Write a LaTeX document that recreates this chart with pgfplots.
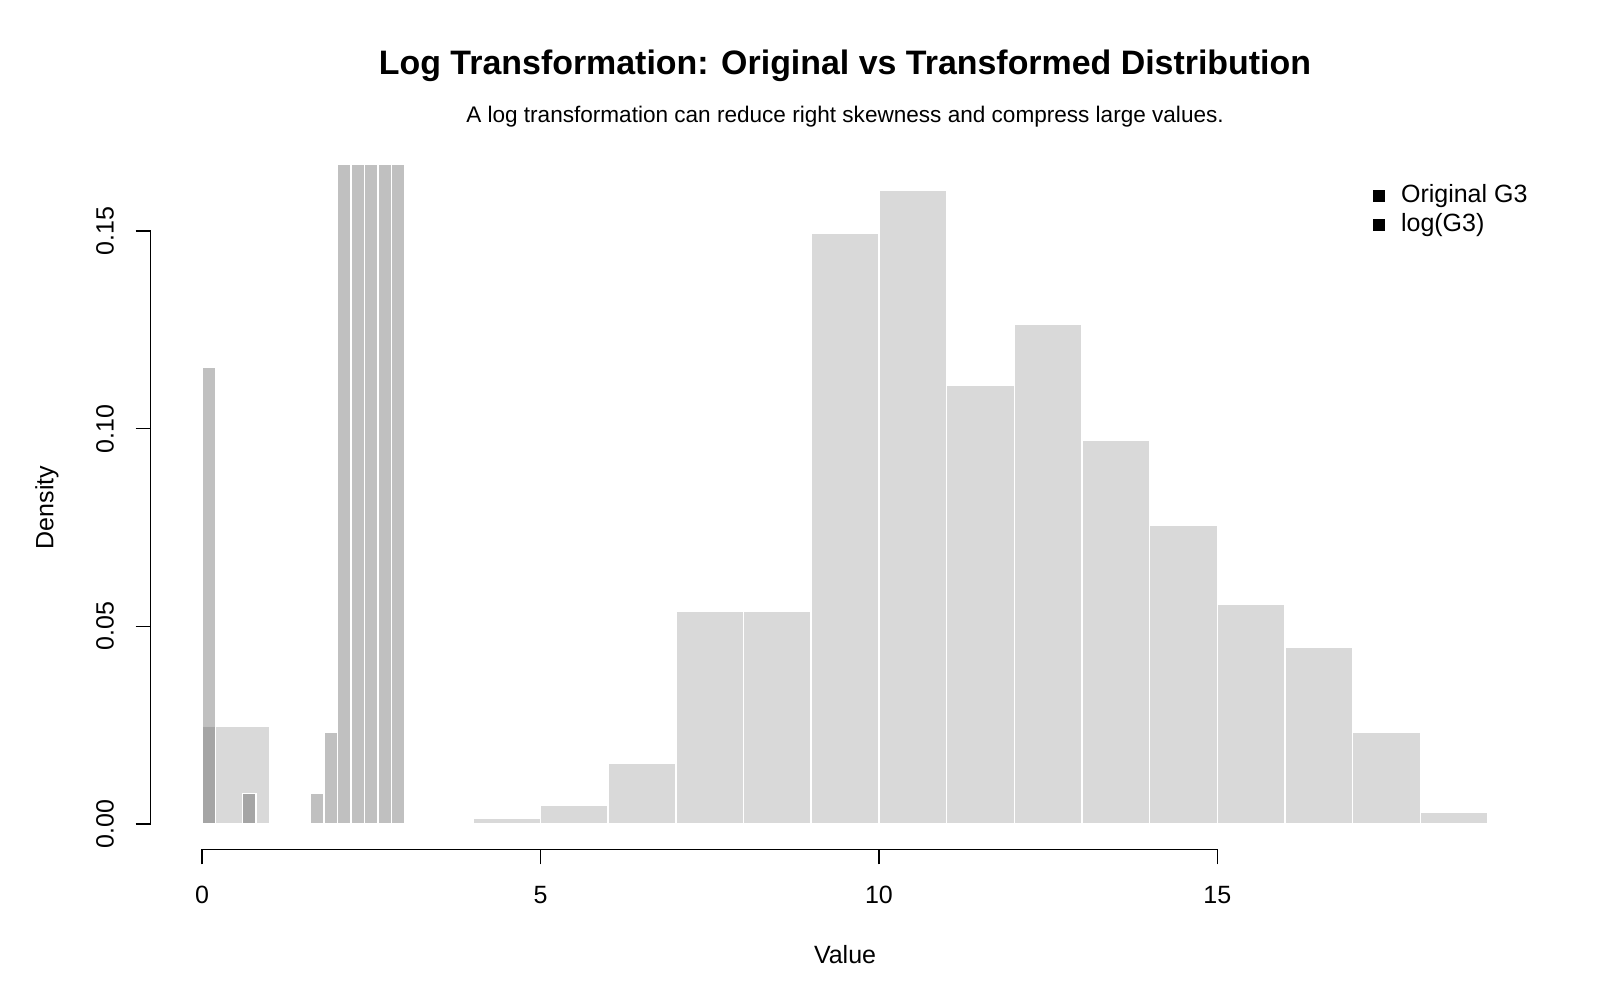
\documentclass[border=0pt]{standalone}
\usepackage{pgfplots}
\pgfplotsset{compat=1.18}
\usepackage{fontspec}
\setmainfont{Liberation Sans}
\definecolor{origfill}{RGB}{217,217,217}
\definecolor{logfill}{RGB}{56,56,56}
\begin{document}
\begin{tikzpicture}
\path[use as bounding box] (0,0) rectangle (160mm,100mm);
\begin{axis}[
  at={(15.06mm,15.07mm)}, anchor=south west,
  width=138.89mm, height=68.38mm, scale only axis,
  xmin=-0.76, xmax=19.76, ymin=-0.006408, ymax=0.16661,
  clip mode=individual,
  axis lines*=left,
  axis line style={draw=none,-},
  tick align=outside,
  major tick length=1.5mm,
  tick style={black, line width=0.15mm},
  xtick={0,5,10,15}, xticklabels={0,5,10,15},
  ytick={0,0.05,0.1,0.15}, yticklabels={0.00,0.05,0.10,0.15},
  xtick pos=lower, ytick pos=left,
  font=\fontsize{7.11}{8.5}\selectfont,
  ticklabel style={font=\fontsize{7.11}{8.5}\selectfont},
  xticklabel style={anchor=base},
  yticklabel style={rotate=90, anchor=base},
  xticklabel shift=3.9mm, yticklabel shift=2.2mm,
  xlabel={Value}, ylabel={Density},
  xlabel style={at={(axis description cs:0.5,-0.1673)}, anchor=base, font=\fontsize{7.11}{8.5}\selectfont},
  ylabel style={at={(axis description cs:-0.07006,0.5)}, anchor=base, rotate=0, font=\fontsize{7.11}{8.5}\selectfont},
  legend style={draw=none, fill=none, at={(axis description cs:0.8803,0.9719)}, anchor=north west,
    inner sep=0pt, outer sep=0pt, row sep=0.76mm, column sep=1.57mm,
    nodes={inner sep=0pt, outer sep=0pt, text height=1.75mm, text depth=0.45mm},
    font=\fontsize{7.11}{8.5}\selectfont},
  legend cell align=left,
  legend image code/.code={\fill[black] (0mm,-0.535mm) rectangle (1.07mm,0.535mm);},
]
\addlegendimage{black}
\addlegendentry{Original G3}
\addlegendimage{black}
\addlegendentry{log(G3)}
% Original G3 histogram (density), breaks 0..19
\addplot[ybar interval, fill=origfill, draw=white, line width=0.15mm, forget plot] coordinates {
(0,0.024653) (1,0) (2,0) (3,0) (4,0.001541) (5,0.004622) (6,0.015408)
(7,0.053929) (8,0.053929) (9,0.149461) (10,0.160247) (11,0.110940)
(12,0.126348) (13,0.097072) (14,0.075501) (15,0.055470) (16,0.044684)
(17,0.023112) (18,0.003082) (19,0)
};
% log(G3) histogram (density), breaks 0..3 by 0.2
\addplot[ybar interval, fill=logfill, fill opacity=0.316, draw=white, draw opacity=1, line width=0.15mm, forget plot] coordinates {
(0,0.11556) (0.2,0) (0.4,0) (0.6,0.0077) (0.8,0) (1.0,0) (1.2,0) (1.4,0)
(1.6,0.0077) (1.8,0.02311) (2.0,0.3467) (2.2,1.0169) (2.4,1.3559)
(2.6,1.4946) (2.8,0.6317) (3.0,0)
};
\draw[line width=0.15mm] (axis cs:0,-0.006408) -- (axis cs:15,-0.006408);
\draw[line width=0.15mm] (axis cs:-0.76,0) -- (axis cs:-0.76,0.15);
\end{axis}
\node[anchor=base, font=\bfseries\fontsize{9.65}{11}\selectfont] at (84.5mm,92.5mm)
  {Log Transformation: Original vs Transformed Distribution};
\node[anchor=base, font=\fontsize{6.42}{7.8}\selectfont] at (84.5mm,87.77mm)
  {A log transformation can reduce right skewness and compress large values.};
\end{tikzpicture}
\end{document}
